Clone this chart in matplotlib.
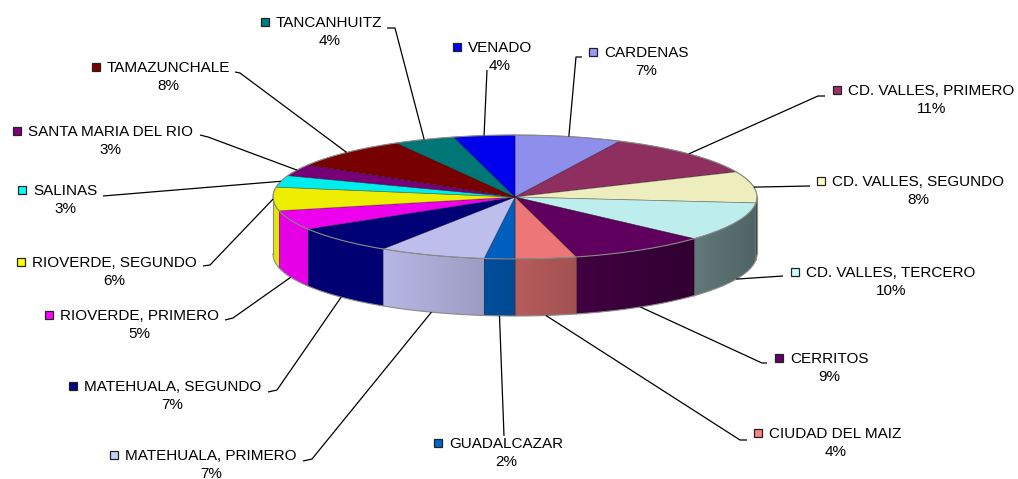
import numpy as np
import matplotlib
matplotlib.use("Agg")
import matplotlib.pyplot as plt
from matplotlib.patches import Polygon, Rectangle
from matplotlib.colors import to_rgb

names = ["CARDENAS", "CD. VALLES, PRIMERO", "CD. VALLES, SEGUNDO",
         "CD. VALLES, TERCERO", "CERRITOS", "CIUDAD DEL MAIZ", "GUADALCAZAR",
         "MATEHUALA, PRIMERO", "MATEHUALA, SEGUNDO", "RIOVERDE, PRIMERO",
         "RIOVERDE, SEGUNDO", "SALINAS", "SANTA MARIA DEL RIO",
         "TAMAZUNCHALE", "TANCANHUITZ", "VENADO"]
values = [7, 11, 8, 10, 9, 4, 2, 7, 7, 5, 6, 3, 3, 8, 4, 4]
colors = ["#9999FF", "#993366", "#FFFFCC", "#CCFFFF", "#660066", "#FF8080",
          "#0066CC", "#CCCCFF", "#000080", "#FF00FF", "#FFFF00", "#00FFFF",
          "#800080", "#800000", "#008080", "#0000FF"]

# label layout in pixels: left edge of the name, centre of the name line
label_x = [604, 848, 832, 806, 790, 769, 449, 125, 84, 60, 32, 33, 28, 107, 276, 468]
label_y = [52, 90, 181, 272, 358, 433, 443, 455, 386, 315, 262, 190, 131, 67, 22, 47]
# leader line points on the label side (pie end is computed)
leader = [[(582, 57), (576, 57)], [(825, 96), (818, 96)], [(810, 186)],
          [(783, 276)], [(767, 363), (762, 363)], [(747, 440), (740, 440)],
          [(504, 436)], [(303, 461), (312, 459)], [(268, 392), (277, 390)],
          [(225, 320), (233, 318)], [(203, 266), (210, 265)], [(103, 196)],
          [(200, 135), (208, 137)], [(235, 72), (240, 73)],
          [(387, 28), (395, 28)], [(487, 70)]]

W, H = 1018, 479
cx, cy, rx, ry, depth = 515, 197, 242, 62, 57

fig = plt.figure(figsize=(W / 100, H / 100), dpi=100)
ax = fig.add_axes([0, 0, 1, 1])


def pt(th, dy=0.0):
    return cx + rx * np.sin(th), cy - ry * np.cos(th) + dy


def shade(c, f):
    return np.clip(np.array(to_rgb(c)) * f, 0, 1)


tot = float(sum(values))
edges = np.concatenate([[0], np.cumsum(values)]) / tot * 2 * np.pi

# side wall (front half only), lit from the left -> gradient clipped to the wall
for i, c in enumerate(colors):
    a, b = max(edges[i], np.pi / 2), min(edges[i + 1], 3 * np.pi / 2)
    if a >= b:
        continue
    ts = np.linspace(a, b, max(3, int(np.degrees(b - a)) + 2))
    tx, ty = pt(ts)
    bx, by = pt(ts[::-1], depth)
    poly = list(zip(tx, ty)) + list(zip(bx, by))
    wall = Polygon(poly, closed=True, facecolor="none", edgecolor="none")
    ax.add_patch(wall)
    x0, x1 = min(tx.min(), bx.min()) - 1, max(tx.max(), bx.max()) + 1
    y0, y1 = min(ty.min(), by.min()) - 1, max(ty.max(), by.max()) + 1
    gx = np.linspace(x0, x1, 64)
    f = np.clip(0.72 - 0.33 * (gx - cx) / rx, 0.38, 0.9)
    img = np.array([[shade(c, v) for v in f]] * 2)
    im = ax.imshow(img, extent=(x0, x1, y1, y0), aspect="auto",
                   interpolation="bilinear", zorder=1)
    im.set_clip_path(wall)
    if np.pi / 2 < edges[i] < 3 * np.pi / 2:
        sx, sy = pt(edges[i])
        ax.plot([sx, sx], [sy, sy + depth], color=(0, 0, 0, 0.35), lw=0.6, zorder=2)

tb = np.linspace(np.pi / 2, 3 * np.pi / 2, 200)
bx, by = pt(tb, depth)
ax.plot(bx, by, color="#8a8a8a", lw=0.8, zorder=2)
for t in (np.pi / 2, 3 * np.pi / 2):
    sx, sy = pt(t)
    ax.plot([sx, sx], [sy, sy + depth], color="#8a8a8a", lw=0.8, zorder=2)

# top face
for i, c in enumerate(colors):
    ts = np.linspace(edges[i], edges[i + 1], max(3, int(np.degrees(edges[i + 1] - edges[i])) + 2))
    xs, ys = pt(ts)
    poly = [(cx, cy)] + list(zip(xs, ys))
    ax.add_patch(Polygon(poly, closed=True, facecolor=shade(c, 0.93),
                         edgecolor=(0, 0, 0, 0.4), lw=0.5, zorder=3))
ta = np.linspace(0, 2 * np.pi, 400)
ex, ey = pt(ta)
ax.plot(ex, ey, color="#8a8a8a", lw=0.8, zorder=4)

# labels and leader lines
for i, nm in enumerate(names):
    mid = 0.5 * (edges[i] + edges[i + 1])
    front = np.radians(95) < mid < np.radians(262)
    px, py = pt(mid, depth if front else 0.0)
    pts = leader[i] + [(px, py)]
    ax.plot([p[0] for p in pts], [p[1] for p in pts], color="black", lw=0.9,
            zorder=5, solid_capstyle="butt")

    x, y = label_x[i], label_y[i]
    ax.add_patch(Rectangle((x - 15, y - 4), 8, 8, facecolor=colors[i],
                           edgecolor="#222222", lw=0.9, zorder=6))
    ax.text(x, y + 10, f"{nm}\n{values[i]}%", ha="left", va="center",
            multialignment="center", fontsize=11, family="Liberation Sans",
            linespacing=1.35, color="black", zorder=6)

ax.set_xlim(0, W)
ax.set_ylim(H, 0)
ax.axis("off")

fig.savefig("out.png", dpi=100, facecolor="white")
